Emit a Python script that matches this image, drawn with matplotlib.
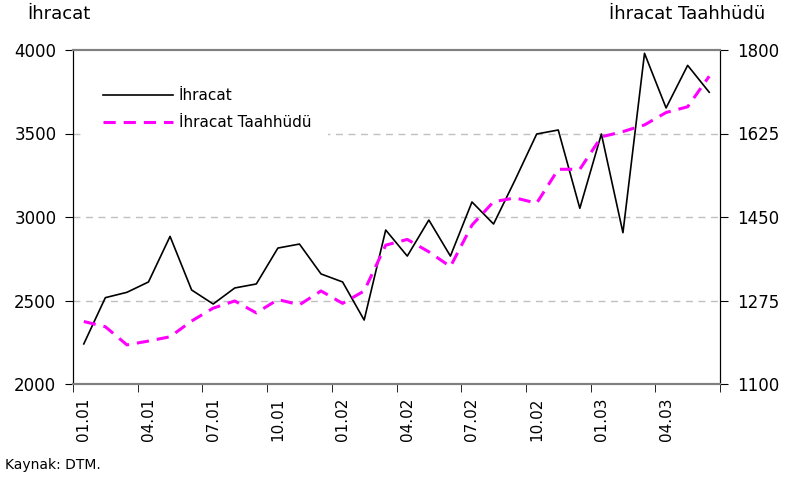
import matplotlib.pyplot as plt

# monthly values, 01.01 - 06.03
months = ['01.01', '02.01', '03.01', '04.01', '05.01', '06.01', '07.01', '08.01', '09.01', '10.01',
          '11.01', '12.01', '01.02', '02.02', '03.02', '04.02', '05.02', '06.02', '07.02', '08.02',
          '09.02', '10.02', '11.02', '12.02', '01.03', '02.03', '03.03', '04.03', '05.03', '06.03']
ihracat = [2240, 2517, 2549, 2611, 2884, 2563, 2479, 2575, 2599, 2814,
           2838, 2659, 2611, 2383, 2922, 2766, 2982, 2766, 3090, 2958,
           3222, 3497, 3521, 3052, 3497, 2906, 3980, 3653, 3908, 3747]
taahhut = [1231, 1220, 1182, 1190, 1199, 1232, 1259, 1274, 1249, 1277,
           1266, 1295, 1269, 1295, 1391, 1403, 1377, 1346, 1433, 1482,
           1490, 1479, 1550, 1550, 1618, 1629, 1643, 1669, 1681, 1745]

left_ticks = [2000, 2500, 3000, 3500, 4000]
right_ticks = [1100, 1275, 1450, 1625, 1800]

plt.rcParams['font.family'] = ['DejaVu Sans']

fig = plt.figure(figsize=(7.87, 4.8), dpi=100)
ax = fig.add_axes([73/787, 1-384/480, 647/787, 334/480])
x = list(range(len(months)))

for v in left_ticks[1:-1]:
    ax.axhline(v, color='#c0c0c0', lw=1, linestyle=(0, (5, 4)), zorder=0)

l1, = ax.plot(x, ihracat, color='black', lw=1.2, label='İhracat', zorder=3)
ax.set_xlim(-0.5, len(months) - 0.5)
ax.set_ylim(2000, 4000)
ax.set_yticks(left_ticks)
ax.tick_params(axis='y', labelsize=12, length=6, pad=6)

ax.set_xticks(x[::3])
ax.set_xticklabels(months[::3], rotation=90, fontsize=11)
ax.set_xticks([i - 0.5 for i in range(0, len(months) + 1, 3)], minor=True)
ax.tick_params(axis='x', which='major', length=0, pad=10)
ax.tick_params(axis='x', which='minor', length=6)

ax2 = ax.twinx()
l2, = ax2.plot(x, taahhut, color='#ff00ff', lw=2.2, linestyle=(0, (4, 2.6)),
               label='İhracat Taahhüdü', zorder=2)
ax2.set_ylim(1100, 1800)
ax2.set_yticks(right_ticks)
ax2.tick_params(axis='y', labelsize=12, length=6, pad=6)

for a in (ax, ax2):
    a.spines['top'].set_color('#808080')
    a.spines['top'].set_linewidth(1.5)
    a.spines['bottom'].set_color('#808080')
    a.spines['bottom'].set_linewidth(1.5)
    a.spines['left'].set_color('black')
    a.spines['right'].set_color('black')

leg = ax2.legend(handles=[l1, l2], loc='upper left', bbox_to_anchor=(0.011, 0.955),
                 fontsize=11, handlelength=4.6, frameon=True, facecolor='white',
                 edgecolor='none', framealpha=1, borderpad=1.1, labelspacing=0.8,
                 handletextpad=0.35, fancybox=False, borderaxespad=0.4)

fig.text(27/787, 1-14/480, 'İhracat', fontsize=13, va='center', ha='left')
fig.text(765/787, 1-14/480, 'İhracat Taahhüdü', fontsize=13, va='center', ha='right')
fig.text(5/787, 1-465/480, 'Kaynak: DTM.', fontsize=10, va='center', ha='left')

fig.savefig('out.png', dpi=100)
